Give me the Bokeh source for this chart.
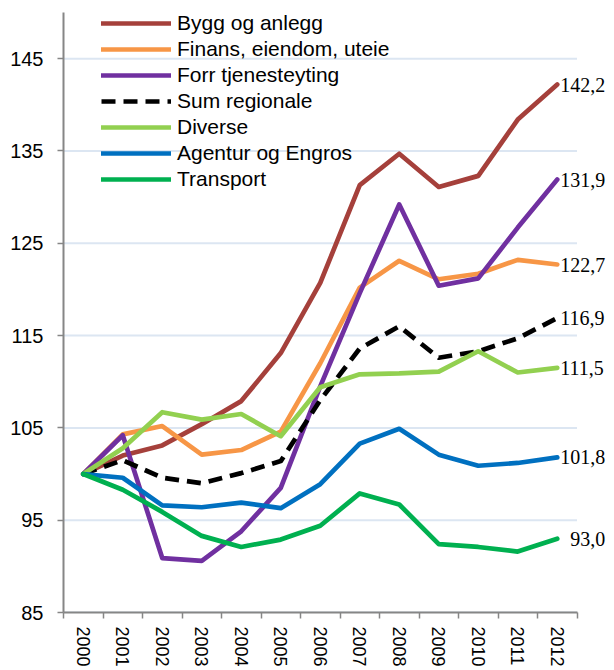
import math
from bokeh.plotting import figure
from bokeh.models import FixedTicker, Legend, LegendItem, LabelSet, ColumnDataSource, Range1d
from bokeh.embed import file_html
from bokeh.resources import INLINE

years = [2000, 2001, 2002, 2003, 2004, 2005, 2006, 2007, 2008, 2009, 2010, 2011, 2012]
bygg = [100, 102.0, 103.1, 105.4, 107.9, 113.1, 120.7, 131.3, 134.7, 131.1, 132.3, 138.4, 142.2]
finans = [100, 104.3, 105.2, 102.1, 102.6, 104.6, 112.0, 120.2, 123.1, 121.1, 121.7, 123.2, 122.7]
forr = [100, 104.2, 90.9, 90.6, 93.8, 98.5, 109.5, 119.6, 129.2, 120.4, 121.2, 126.7, 131.9]
sum_regionale = [100, 101.5, 99.6, 99.0, 100.1, 101.4, 108.0, 113.6, 116.0, 112.6, 113.3, 114.7, 116.9]
diverse = [100, 102.8, 106.7, 105.9, 106.5, 104.1, 109.4, 110.8, 110.9, 111.1, 113.3, 111.0, 111.5]
agentur = [100, 99.6, 96.6, 96.4, 96.9, 96.3, 98.9, 103.3, 104.9, 102.1, 100.9, 101.2, 101.8]
transport = [100, 98.3, 95.9, 93.3, 92.1, 92.9, 94.4, 97.9, 96.7, 92.4, 92.1, 91.6, 93.0]

series_names = ["Bygg og anlegg", "Finans, eiendom, uteie", "Forr tjenesteyting",
                "Sum regionale", "Diverse", "Agentur og Engros", "Transport"]
y_ticks = [85, 95, 105, 115, 125, 135, 145]

series_values = [bygg, finans, forr, sum_regionale, diverse, agentur, transport]
colors = ["#A5403B", "#F79646", "#7030A0", "#000000", "#92D050", "#0070C0", "#00B050"]
dashes = ["solid", "solid", "solid", "14 8", "solid", "solid", "solid"]
label_offsets = [3, 3, 3, 3, 3, 3, 13]

FONT = "Liberation Sans"
FS = "20px"
GRAY = "#868686"

FRAME_W = 551
PX_PER_YEAR = 39.5
x_start = years[0] - 0.5
x_end = x_start + FRAME_W / PX_PER_YEAR

p = figure(frame_width=FRAME_W, frame_height=600, output_backend="svg", toolbar_location=None,
           x_range=Range1d(x_start, x_end), y_range=Range1d(85, 150),
           min_border_left=63, min_border_right=0, min_border_top=12, min_border_bottom=0)
p.outline_line_color = None
p.background_fill_color = "white"

# horizontal gridlines limited to the category span
grid_src = ColumnDataSource(dict(y=y_ticks,
                                 x0=[years[0] - 0.5] * len(y_ticks),
                                 x1=[years[-1] + 0.5] * len(y_ticks)))
p.segment(x0="x0", x1="x1", y0="y", y1="y", source=grid_src,
          line_color="#DCE6F2", line_width=2, level="underlay")

items = []
for name, vals, col, dash in zip(series_names, series_values, colors, dashes):
    cap = "round" if dash == "solid" else "butt"
    r = p.line(years, vals, line_color=col, line_width=4.7, line_dash=dash,
               line_cap=cap, line_join="round")
    items.append(LegendItem(label=name, renderers=[r]))

legend = Legend(items=items, location=(38, 421))
legend.background_fill_alpha = 0
legend.border_line_alpha = 0
legend.padding = 0
legend.margin = 0
legend.spacing = 2
legend.glyph_width = 70
legend.glyph_height = 20
legend.label_height = 20
legend.label_standoff = 6
legend.label_text_font = FONT
legend.label_text_font_size = "21px"
legend.label_text_color = "#000000"
p.add_layout(legend)

end_src = ColumnDataSource(dict(
    x=[years[-1]] * len(series_values),
    y=[v[-1] for v in series_values],
    text=[f"{v[-1]:.1f}".replace(".", ",") for v in series_values],
    dx=label_offsets,
))
labels = LabelSet(x="x", y="y", text="text", x_offset="dx", source=end_src,
                  text_align="left", text_baseline="middle",
                  text_font=FONT, text_font_size=FS, text_color="#000000")
p.add_layout(labels)

# y axis
p.yaxis.ticker = FixedTicker(ticks=y_ticks)
p.yaxis.axis_line_color = GRAY
p.yaxis.axis_line_width = 2
p.yaxis.major_tick_line_color = GRAY
p.yaxis.major_tick_line_width = 1.5
p.yaxis.major_tick_out = 6
p.yaxis.major_tick_in = 0
p.yaxis.minor_tick_line_color = None
p.yaxis.major_label_standoff = 14
p.yaxis.major_label_text_font = FONT
p.yaxis.major_label_text_font_size = FS
p.yaxis.major_label_text_color = "#000000"

# x axis
p.xaxis.ticker = FixedTicker(ticks=years, minor_ticks=[y - 0.5 for y in years] + [years[-1] + 0.5])
p.xaxis.bounds = (years[0] - 0.5, years[-1] + 0.5)
p.xaxis.axis_line_color = GRAY
p.xaxis.axis_line_width = 2
p.xaxis.major_tick_out = 0
p.xaxis.major_tick_in = 0
p.xaxis.minor_tick_out = 6
p.xaxis.minor_tick_in = 0
p.xaxis.minor_tick_line_color = GRAY
p.xaxis.minor_tick_line_width = 1.5
p.xaxis.major_label_orientation = -math.pi / 2
p.xaxis.major_label_standoff = 8
p.xaxis.major_label_text_font = FONT
p.xaxis.major_label_text_font_size = "18px"
p.xaxis.major_label_text_color = "#000000"

p.xgrid.visible = False
p.ygrid.visible = False

open("out.html", "w").write(file_html(p, INLINE))
